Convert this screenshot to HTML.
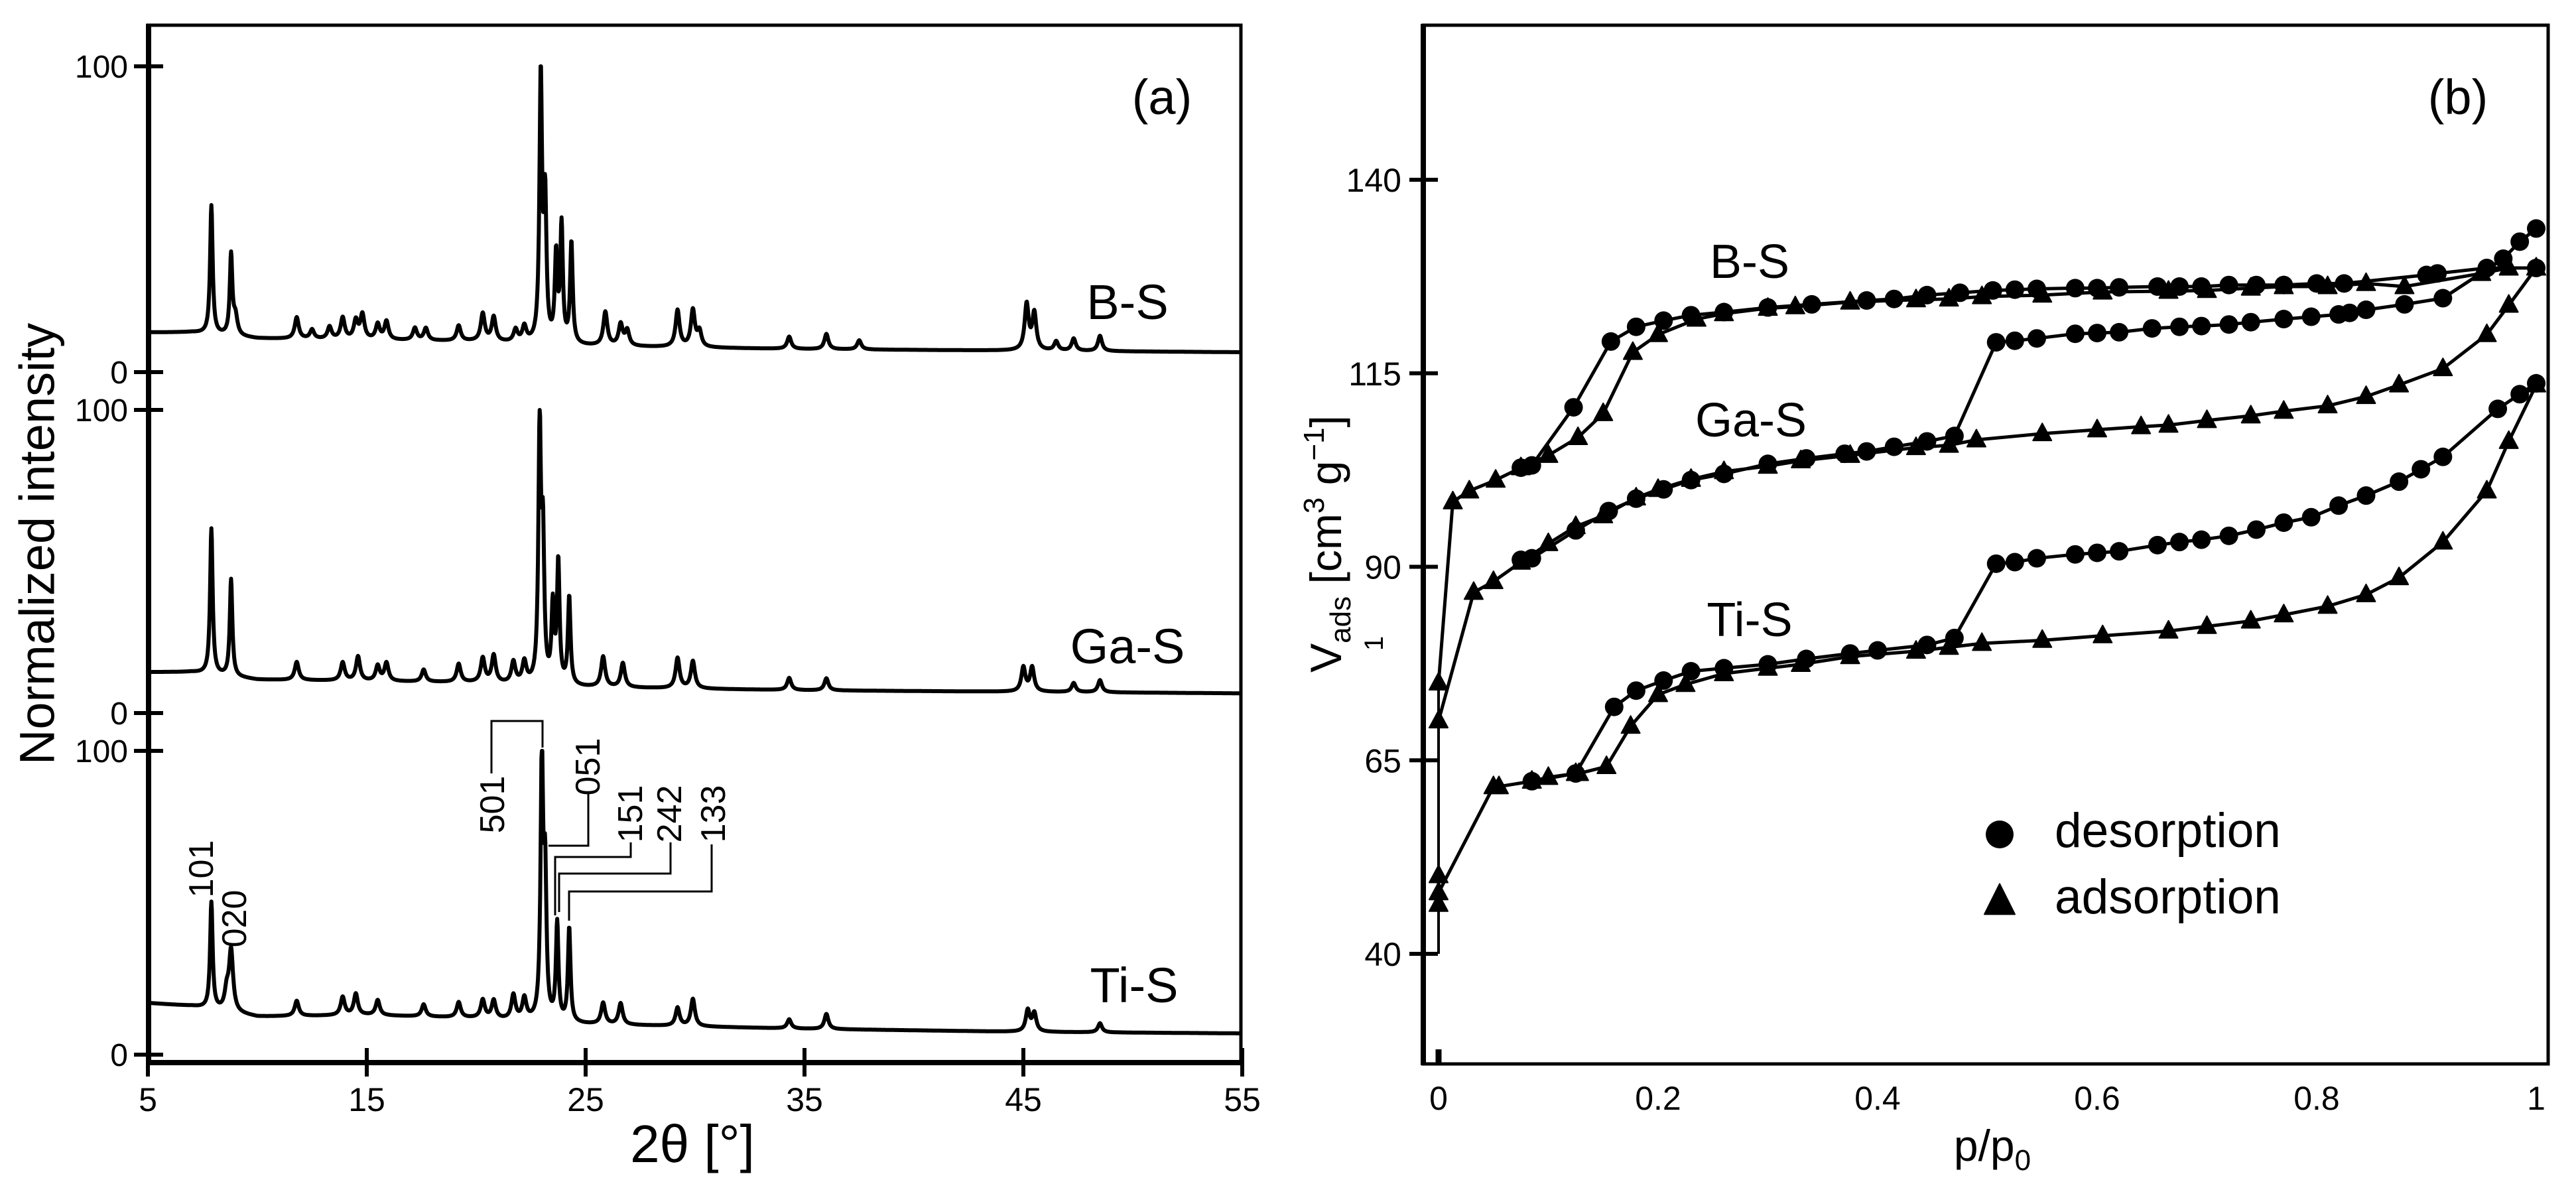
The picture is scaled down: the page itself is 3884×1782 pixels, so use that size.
<!DOCTYPE html>
<html><head><meta charset="utf-8"><style>
html,body{margin:0;padding:0;background:#fff}
svg{display:block}
text{font-family:"Liberation Sans",Arial,sans-serif;fill:#000}
</style></head><body>
<svg id="fig" width="3884" height="1782" viewBox="0 0 3884 1782" xmlns="http://www.w3.org/2000/svg">
<rect width="3884" height="1782" fill="#fff"/>
<g id="pa"></g>
<g id="pb"></g>
</svg>
<script>
// ---------- Panel (a) XRD data ----------
const xTicksA = [5, 15, 25, 35, 45, 55];
const bsBaseX = [5, 7, 10, 15, 20, 25, 35, 45, 55];
const bsBaseY = [13, 13, 11, 10.5, 10, 8.5, 7.5, 7, 6.5];
const bsPeakPos = [7.9, 8.8, 9.0, 11.8, 12.5, 13.3, 13.9, 14.5, 14.8, 15.5, 15.9, 17.2, 17.7, 19.2, 20.3, 20.8, 21.8, 22.2, 22.95, 23.15, 23.65, 23.9, 24.35, 25.9, 26.6, 26.9, 29.2, 29.9, 30.2, 34.3, 36.0, 37.5, 45.15, 45.5, 46.5, 47.3, 48.5];
const bsPeakH = [42, 26, 6, 7, 3, 4, 7, 6, 8, 5, 6, 4, 4, 5, 9, 8, 4, 5, 88, 45, 28, 38, 33, 11, 7, 5, 12, 12, 5, 4, 5, 3, 15, 12, 3, 4, 5];
const gaBaseX = [5, 7, 10, 15, 20, 25, 35, 45, 55];
const gaBaseY = [13.5, 13.5, 11, 10.5, 10, 8.5, 7.5, 7, 6.5];
const gaPeakPos = [7.9, 8.8, 11.8, 13.9, 14.6, 15.5, 15.9, 17.6, 19.2, 20.3, 20.8, 21.7, 22.2, 22.9, 23.05, 23.5, 23.75, 24.25, 25.8, 26.7, 29.2, 29.9, 34.3, 36.0, 45.0, 45.4, 47.3, 48.5];
const gaPeakH = [48, 32, 6, 6, 8, 5, 6, 4, 6, 8, 9, 7, 7, 84, 45, 25, 40, 29, 10, 8, 10, 9, 4, 4, 8, 8, 3, 4];
const tiBaseX = [5, 7, 10, 15, 20, 25, 35, 45, 55];
const tiBaseY = [17, 16, 12.5, 13, 12, 10, 8.5, 7.5, 7];
const tiPeakPos = [7.9, 8.6, 8.8, 11.8, 13.9, 14.5, 15.5, 17.6, 19.2, 20.3, 20.8, 21.7, 22.2, 23.0, 23.15, 23.7, 24.25, 25.8, 26.6, 29.2, 29.9, 34.3, 36.0, 45.2, 45.5, 48.5];
const tiPeakH = [35, 6, 20, 5, 6, 7, 5, 4, 5, 6, 6, 8, 7, 86, 45, 32, 31, 7, 7, 6, 9, 3, 5, 7, 6, 3];
const seriesLabelsA = ["B-S", "Ga-S", "Ti-S"];
const hklLabels = ["101", "020", "501", "051", "151", "242", "133"];

// ---------- Panel (b) isotherm data ----------
const xTicksB = [0, 0.2, 0.4, 0.6, 0.8, 1];
const yTicksB = [40, 65, 90, 115, 140];
const bsAdsP = [0, 0.013, 0.028, 0.052, 0.075, 0.1, 0.127, 0.15, 0.177, 0.2, 0.235, 0.26, 0.3, 0.325, 0.375, 0.435, 0.465, 0.495, 0.55, 0.605, 0.665, 0.7, 0.74, 0.77, 0.81, 0.845, 0.88, 0.95, 0.975, 1.0];
const bsAdsV = [75, 98.4, 99.8, 101.2, 102.8, 104.4, 106.7, 109.8, 117.7, 120, 122, 122.7, 123.4, 123.6, 124.2, 124.5, 124.6, 124.9, 125.1, 125.5, 125.6, 125.7, 126, 126.2, 126.2, 126.6, 126.2, 127.9, 128.6, 128.6];
const bsDesP = [1.0, 0.955, 0.91, 0.9, 0.825, 0.8, 0.77, 0.745, 0.72, 0.695, 0.675, 0.655, 0.62, 0.6, 0.58, 0.545, 0.525, 0.505, 0.475, 0.445, 0.415, 0.39, 0.34, 0.3, 0.26, 0.23, 0.205, 0.18, 0.157, 0.123, 0.085, 0.075];
const bsDesV = [128.6, 128.6, 127.9, 127.7, 126.6, 126.6, 126.4, 126.4, 126.4, 126.2, 126.2, 126.2, 126.1, 126.0, 126.0, 125.9, 125.8, 125.7, 125.4, 125.1, 124.6, 124.4, 123.9, 123.5, 122.9, 122.5, 121.8, 121.0, 119.1, 110.6, 103.1, 102.8];
const gaAdsP = [0, 0.032, 0.05, 0.075, 0.1, 0.125, 0.15, 0.18, 0.2, 0.23, 0.26, 0.3, 0.33, 0.375, 0.435, 0.465, 0.49, 0.55, 0.6, 0.64, 0.665, 0.7, 0.74, 0.77, 0.81, 0.845, 0.875, 0.915, 0.955, 0.975, 1.0];
const gaAdsV = [70.1, 86.7, 88.1, 90.6, 93.0, 95.2, 96.6, 98.9, 100.0, 101.3, 102.3, 103.0, 103.7, 104.4, 105.4, 105.7, 106.4, 107.2, 107.7, 108.1, 108.3, 108.9, 109.5, 110.1, 110.8, 112.0, 113.5, 115.6, 120.0, 123.8, 128.6];
const gaDesP = [1.0, 0.985, 0.97, 0.915, 0.88, 0.845, 0.83, 0.82, 0.795, 0.77, 0.74, 0.72, 0.695, 0.675, 0.65, 0.62, 0.6, 0.58, 0.545, 0.525, 0.508, 0.47, 0.445, 0.415, 0.39, 0.37, 0.335, 0.3, 0.26, 0.23, 0.205, 0.18, 0.155, 0.125, 0.085, 0.075];
const gaDesV = [133.7, 132.0, 129.8, 124.7, 123.9, 123.2, 122.8, 122.6, 122.3, 122.0, 121.6, 121.3, 121.1, 121.0, 120.8, 120.3, 120.2, 120.1, 119.5, 119.2, 119.0, 106.9, 106.2, 105.5, 104.9, 104.6, 104.0, 103.3, 102.0, 101.2, 100.0, 98.8, 97.2, 94.7, 91.1, 90.9];
const tiAdsP = [0, 0, 0, 0.05, 0.055, 0.085, 0.1, 0.125, 0.128, 0.153, 0.175, 0.2, 0.225, 0.26, 0.3, 0.33, 0.375, 0.435, 0.465, 0.495, 0.55, 0.605, 0.665, 0.7, 0.74, 0.77, 0.81, 0.845, 0.875, 0.915, 0.955, 0.975, 1.0];
const tiAdsV = [46.4, 50.1, 47.9, 61.6, 61.6, 62.3, 62.8, 63.3, 63.3, 64.2, 69.4, 73.5, 74.8, 76.2, 76.9, 77.4, 78.4, 79.1, 79.6, 80.1, 80.5, 81.1, 81.7, 82.3, 83.0, 83.8, 84.9, 86.4, 88.6, 93.2, 99.8, 106.2, 113.5];
const tiDesP = [1.0, 0.985, 0.965, 0.915, 0.895, 0.875, 0.845, 0.82, 0.795, 0.77, 0.745, 0.72, 0.695, 0.675, 0.655, 0.62, 0.6, 0.58, 0.545, 0.525, 0.508, 0.47, 0.445, 0.4, 0.375, 0.335, 0.3, 0.26, 0.23, 0.205, 0.18, 0.16, 0.125, 0.085];
const tiDesV = [113.7, 112.3, 110.4, 104.2, 102.6, 101.0, 99.2, 97.9, 96.4, 95.7, 94.8, 94.0, 93.5, 93.2, 92.8, 92.0, 91.8, 91.6, 91.1, 90.6, 90.4, 80.8, 79.9, 79.2, 78.8, 78.1, 77.4, 76.9, 76.5, 75.3, 74.0, 71.9, 63.3, 62.3];
const seriesLabelsB = ["B-S", "Ga-S", "Ti-S"];

const NS = "http://www.w3.org/2000/svg";
function mk(parent, tag, attrs, txt) {
  const e = document.createElementNS(NS, tag);
  for (const k in attrs) e.setAttribute(k, attrs[k]);
  if (txt !== undefined) e.textContent = txt;
  parent.appendChild(e);
  return e;
}
const pa = document.getElementById('pa');
const pb = document.getElementById('pb');

// ---------- Panel A ----------
const ax = t => 223 + (t - 5) * 33;
const offs = [{z: 561, s: 4.61}, {z: 1075, s: 4.57}, {z: 1590, s: 4.58}];
function interp(xs, ys, t) {
  if (t <= xs[0]) return ys[0];
  for (let i = 1; i < xs.length; i++) if (t <= xs[i]) {
    const f = (t - xs[i-1]) / (xs[i] - xs[i-1]);
    return ys[i-1] + f * (ys[i] - ys[i-1]);
  }
  return ys[ys.length - 1];
}
function profile(bx, by, pp, ph, t) {
  let v = interp(bx, by, t);
  for (let i = 0; i < pp.length; i++) {
    const w = ph[i] > 20 ? 0.07 : 0.11;
    const d = (t - pp[i]) / w;
    v += ph[i] / (1 + d * d);
  }
  return v;
}
const setsA = [[bsBaseX, bsBaseY, bsPeakPos, bsPeakH], [gaBaseX, gaBaseY, gaPeakPos, gaPeakH], [tiBaseX, tiBaseY, tiPeakPos, tiPeakH]];
const namesA = ['xrd-trace-b-s', 'xrd-trace-ga-s', 'xrd-trace-ti-s'];
setsA.forEach((s, k) => {
  let d = '';
  for (let t = 5; t <= 55.0001; t += 0.02) {
    const v = Math.min(profile(s[0], s[1], s[2], s[3], t), 100);
    d += (d ? 'L' : 'M') + ax(t).toFixed(1) + ' ' + (offs[k].z - v * offs[k].s).toFixed(1);
  }
  const p = mk(pa, 'path', {d: d, fill: 'none', stroke: '#000', 'stroke-width': 6, 'stroke-linejoin': 'round'});
  
  
});
// frame
const fa = mk(pa, 'rect', {x: 223, y: 38, width: 1648, height: 1564, fill: 'none', stroke: '#000', 'stroke-width': 5});


mk(pa, 'line', {x1: 224, y1: 36, x2: 224, y2: 1605, stroke: '#000', 'stroke-width': 8});
mk(pa, 'line', {x1: 220, y1: 1602, x2: 1873, y2: 1602, stroke: '#000', 'stroke-width': 8});
xTicksA.forEach(t => {
  mk(pa, 'line', {x1: ax(t), y1: 1580, x2: ax(t), y2: 1623, stroke: '#000', 'stroke-width': 6});
  const tl = mk(pa, 'text', {x: ax(t), y: 1675, 'font-size': 50, 'text-anchor': 'middle'}, t);
  
  
});
offs.forEach(o => {
  [0, 100].forEach(v => {
    const y = o.z - v * o.s;
    mk(pa, 'line', {x1: 202, y1: y, x2: 246, y2: y, stroke: '#000', 'stroke-width': 6});
    const tl = mk(pa, 'text', {x: 193, y: y + 17, 'font-size': 48, 'text-anchor': 'end'}, v);
    
    
  });
});
const labPos = [[1700, 481], [1700, 1000], [1710, 1511]];
seriesLabelsA.forEach((s, i) => {
  const t = mk(pa, 'text', {x: labPos[i][0], y: labPos[i][1], 'font-size': 74, 'text-anchor': 'middle'}, s);
  
  
});
// annotations
const annLines = [
  [[741,1166],[741,1087],[818,1087],[818,1127]],
  [[887,1195],[887,1275],[827,1275]],
  [[951,1270],[951,1292],[837,1292],[837,1380]],
  [[1011,1270],[1011,1317],[843,1317],[843,1375]],
  [[1073,1273],[1073,1344],[858,1344],[858,1388]]
];
annLines.forEach(pts => {
  const l = mk(pa, 'polyline', {points: pts.map(p => p.join(',')).join(' '), fill: 'none', stroke: '#000', 'stroke-width': 3});
  
  
});
const annPos = [[304, 1310], [354, 1385], [743, 1213], [887, 1156], [951, 1227], [1010, 1227], [1076, 1227]];
hklLabels.forEach((h, i) => {
  const [x, y] = annPos[i];
  const t = mk(pa, 'text', {x: x, y: y, 'font-size': 52, 'text-anchor': 'middle', 'dominant-baseline': 'central', transform: `rotate(-90 ${x} ${y})`}, h);
  
  
});
const tA = mk(pa, 'text', {x: 1752, y: 172, 'font-size': 74, 'text-anchor': 'middle'}, '(a)');


const ytA = mk(pa, 'text', {x: 56, y: 820, 'font-size': 74, 'text-anchor': 'middle', 'dominant-baseline': 'central', transform: 'rotate(-90 56 820)'}, 'Normalized intensity');


const xtA = mk(pa, 'text', {x: 1044, y: 1752, 'font-size': 80, 'text-anchor': 'middle'}, '2θ [°]');



// ---------- Panel B ----------
const bx = p => 2169 + p * 1655;
const by = v => 1438 - (v - 40) * 11.67;
const fb = mk(pb, 'rect', {x: 2146, y: 38, width: 1696, height: 1566, fill: 'none', stroke: '#000', 'stroke-width': 5});


mk(pb, 'line', {x1: 2146, y1: 36, x2: 2146, y2: 1606, stroke: '#000', 'stroke-width': 8});
mk(pb, 'line', {x1: 2169, y1: 1582, x2: 2169, y2: 1605, stroke: '#000', 'stroke-width': 9});
xTicksB.forEach(t => {
  const tl = mk(pb, 'text', {x: bx(t), y: 1673, 'font-size': 50, 'text-anchor': 'middle'}, t);
  
  
});
yTicksB.forEach(v => {
  mk(pb, 'line', {x1: 2125, y1: by(v), x2: 2168, y2: by(v), stroke: '#000', 'stroke-width': 6});
  const tl = mk(pb, 'text', {x: 2113, y: by(v) + 18, 'font-size': 50, 'text-anchor': 'end'}, v);
  
  
});
mk(pb, 'line', {x1: bx(0), y1: by(40), x2: bx(0), y2: by(75), stroke: '#000', 'stroke-width': 4});
const seriesB = [
  ['b-s-adsorption', bsAdsP, bsAdsV, 'tri'], ['b-s-desorption', bsDesP, bsDesV, 'circ'],
  ['ga-s-adsorption', gaAdsP, gaAdsV, 'tri'], ['ga-s-desorption', gaDesP, gaDesV, 'circ'],
  ['ti-s-adsorption', tiAdsP, tiAdsV, 'tri'], ['ti-s-desorption', tiDesP, tiDesV, 'circ']
];
function tri(g, x, y, w, h) {
  return mk(g, 'polygon', {points: `${x},${y - h*0.6} ${x - w/2},${y + h*0.4} ${x + w/2},${y + h*0.4}`, fill: '#000', stroke: '#000', 'stroke-width': 2, 'stroke-linejoin': 'round'});
}
seriesB.forEach(s => {
  const g = mk(pb, 'g', {});
  
  
  const pts = s[1].map((p, i) => bx(p).toFixed(1) + ',' + by(s[2][i]).toFixed(1)).join(' ');
  const l = mk(g, 'polyline', {points: pts, fill: 'none', stroke: '#000', 'stroke-width': 5, 'stroke-linejoin': 'round'});
  
  
  s[1].forEach((p, i) => {
    let m;
    if (s[3] === 'circ') m = mk(g, 'circle', {cx: bx(p), cy: by(s[2][i]), r: 14, fill: '#000'});
    else m = tri(g, bx(p), by(s[2][i]), 28, 26);
    
    
  });
});
const labPosB = [[2638, 419], [2640, 658], [2638, 959]];
seriesLabelsB.forEach((s, i) => {
  const t = mk(pb, 'text', {x: labPosB[i][0], y: labPosB[i][1], 'font-size': 72, 'text-anchor': 'middle'}, s);
  
  
});
const tB = mk(pb, 'text', {x: 3706, y: 172, 'font-size': 74, 'text-anchor': 'middle'}, '(b)');


// legend
const lg = mk(pb, 'g', {});


const lc = mk(lg, 'circle', {cx: 3015, cy: 1258, r: 21, fill: '#000'});


const lt = tri(lg, 3015, 1360, 46, 46);


const ld = mk(lg, 'text', {x: 3098, y: 1277, 'font-size': 73}, 'desorption');


const la = mk(lg, 'text', {x: 3098, y: 1377, 'font-size': 73}, 'adsorption');


// axis titles
const ytB = mk(pb, 'text', {x: 2022, y: 820, 'font-size': 66, 'text-anchor': 'middle', transform: 'rotate(-90 2022 820)'});


mk(ytB, 'tspan', {}, 'V');
mk(ytB, 'tspan', {'font-size': 44, dy: 14}, 'ads');
mk(ytB, 'tspan', {dy: -14}, ' [cm');
mk(ytB, 'tspan', {'font-size': 44, dy: -26}, '3');
mk(ytB, 'tspan', {dy: 26}, ' g');
mk(ytB, 'tspan', {'font-size': 44, dy: -26}, '−1');
mk(ytB, 'tspan', {dy: 26}, ']');
const one = mk(pb, 'text', {x: 2072, y: 970, 'font-size': 40, 'text-anchor': 'middle', 'dominant-baseline': 'central', transform: 'rotate(-90 2072 970)'}, '1');


const xtB = mk(pb, 'text', {x: 3004, y: 1750, 'font-size': 66, 'text-anchor': 'middle'});


mk(xtB, 'tspan', {}, 'p/p');
mk(xtB, 'tspan', {'font-size': 44, dy: 14}, '0');
</script>
</body></html>
